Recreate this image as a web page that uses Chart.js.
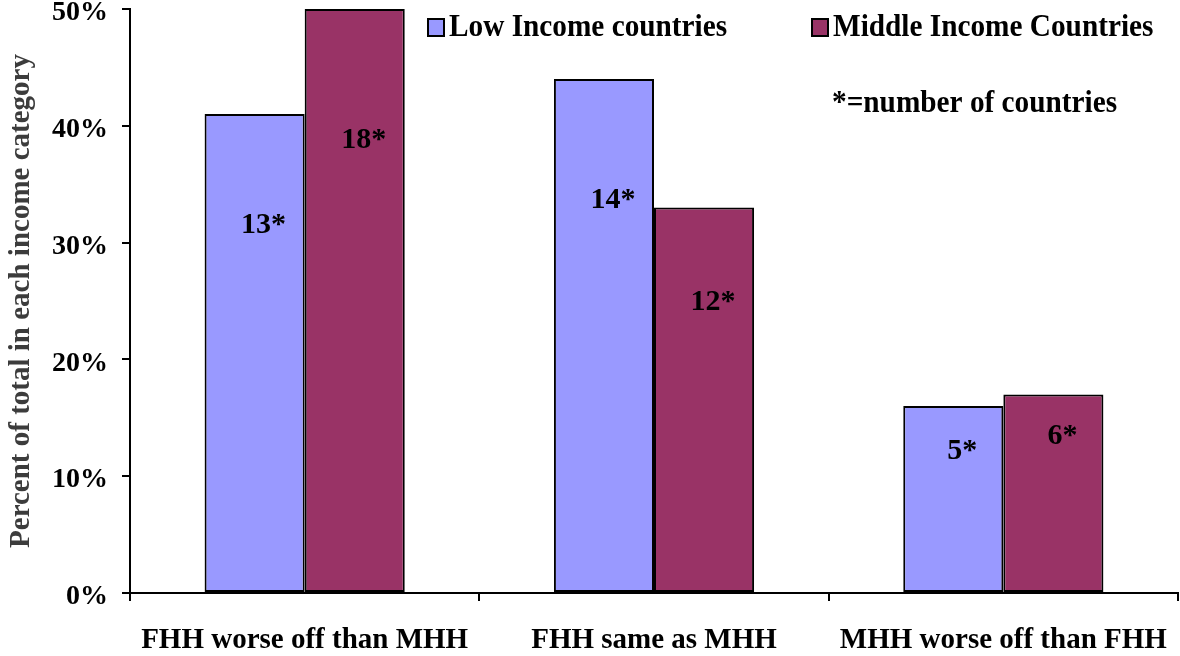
<!DOCTYPE html>
<html>
<head>
<meta charset="utf-8">
<script src="https://cdn.jsdelivr.net/npm/chart.js@4"></script>
<style>
  html, body { margin: 0; padding: 0; background: #fff; }
  canvas { display: block; }
</style>
</head>
<body>
<canvas id="grafico" width="1180" height="656"></canvas>
<script>
// dados
var categorias = ['FHH worse off than MHH', 'FHH same as MHH', 'MHH worse off than FHH'];
var baixaRenda = [41, 44, 16];
var mediaRenda = [50, 33, 17];
var paisesBaixa = ['13*', '14*', '5*'];
var paisesMedia = ['18*', '12*', '6*'];
// altura (em %) onde fica o numero de paises dentro de cada barra
var alturaRotBaixa = [31.5, 33.6, 12.1];
var alturaRotMedia = [38.8, 24.9, 13.4];
var ticksY = [0, 10, 20, 30, 40, 50];

var serif = '"Liberation Serif", "Times New Roman", serif';

// legenda + nota, texto condensado como no original
const legendaPlugin = {
  id: 'legenda',
  afterDraw(chart) {
    const c = chart.ctx;
    const itens = [
      { x: 428, cor: chart.data.datasets[0].backgroundColor, txt: chart.data.datasets[0].label },
      { x: 812, cor: chart.data.datasets[1].backgroundColor, txt: chart.data.datasets[1].label }
    ];
    c.save();
    itens.forEach(function (it) {
      c.fillStyle = it.cor;
      c.fillRect(it.x, 19, 16, 17);
      c.strokeStyle = '#000';
      c.lineWidth = 2;
      c.strokeRect(it.x, 19, 16, 17);
      escreveCondensado(c, it.txt, it.x + 21, 28);
    });
    escreveCondensado(c, '*=number of countries', 832, 104);
    c.restore();
  }
};

function escreveCondensado(c, txt, x, y) {
  c.save();
  c.translate(x, y);
  c.scale(0.915, 1);
  c.font = 'bold 32px ' + serif;
  c.fillStyle = '#000';
  c.textBaseline = 'middle';
  c.textAlign = 'left';
  c.fillText(txt, 0, 0);
  c.restore();
}

// numero de paises dentro das barras
const rotulosPlugin = {
  id: 'rotulos',
  afterDatasetsDraw(chart) {
    const c = chart.ctx;
    const y = chart.scales.y;
    const textos = [paisesBaixa, paisesMedia];
    const alturas = [alturaRotBaixa, alturaRotMedia];
    c.save();
    c.font = 'bold 30px ' + serif;
    c.fillStyle = '#000';
    c.textAlign = 'center';
    c.textBaseline = 'middle';
    [0, 1].forEach(function (d) {
      chart.getDatasetMeta(d).data.forEach(function (barra, i) {
        c.fillText(textos[d][i], barra.x + 9, y.getPixelForValue(alturas[d][i]));
      });
    });
    c.restore();
  }
};

new Chart(document.getElementById('grafico'), {
  type: 'bar',
  data: {
    labels: categorias,
    datasets: [{
      label: 'Low Income countries',
      data: baixaRenda,
      backgroundColor: '#9999FF',
      borderColor: '#000',
      borderWidth: 2,
      borderSkipped: false,
      categoryPercentage: 0.573,
      barPercentage: 1
    }, {
      label: 'Middle Income Countries',
      data: mediaRenda,
      backgroundColor: '#993366',
      borderColor: '#000',
      borderWidth: 2,
      borderSkipped: false,
      categoryPercentage: 0.573,
      barPercentage: 1
    }]
  },
  options: {
    responsive: false,
    devicePixelRatio: 1,
    animation: false,
    layout: { padding: { left: 4, right: 2, top: 9, bottom: 0 } },
    plugins: {
      legend: { display: false },
      tooltip: { enabled: false }
    },
    scales: {
      x: {
        afterFit: function (s) { s.height = 63; s.paddingLeft = 0; s.paddingRight = 0; },
        border: { color: '#000', width: 2 },
        grid: { drawOnChartArea: false, color: '#000', lineWidth: 2, tickLength: 8 },
        ticks: {
          color: '#000',
          padding: 22,
          maxRotation: 0,
          autoSkip: false,
          font: { family: serif, size: 29, weight: 'bold' }
        }
      },
      y: {
        min: 0,
        max: 50,
        afterFit: function (s) { s.width = 126; s.paddingTop = 0; s.paddingBottom = 0; },
        afterBuildTicks: function (s) { s.ticks = ticksY.map(v => ({ value: v })); },
        border: { color: '#000', width: 2 },
        grid: { drawOnChartArea: false, color: '#000', lineWidth: 2, tickLength: 8 },
        ticks: {
          color: '#000',
          padding: 14,
          labelOffset: 4,
          callback: v => v + '%',
          font: { family: serif, size: 28, weight: 'bold' }
        },
        title: {
          display: true,
          text: 'Percent of total in each income category',
          color: '#3c3c3c',
          padding: 0,
          font: { family: serif, size: 29, weight: 'bold' }
        }
      }
    }
  },
  plugins: [legendaPlugin, rotulosPlugin]
});
</script>
</body>
</html>
